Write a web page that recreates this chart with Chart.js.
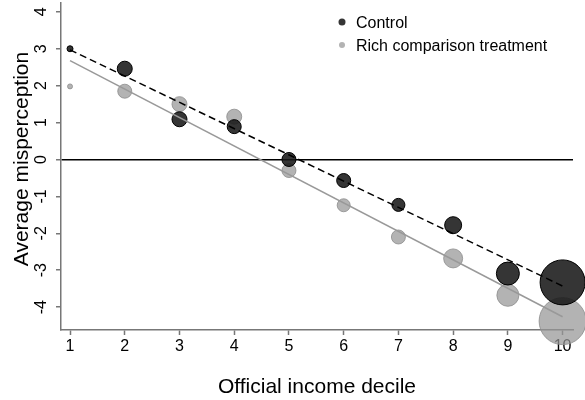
<!DOCTYPE html>
<html>
<head>
<meta charset="utf-8">
<script src="https://cdn.jsdelivr.net/npm/chart.js@4.4.1/dist/chart.umd.min.js"></script>
<style>
html, body { margin: 0; padding: 0; background: #fff; }
</style>
</head>
<body>
<canvas id="chart" width="585" height="400"></canvas>
<script>
// data
const deciles = [1, 2, 3, 4, 5, 6, 7, 8, 9, 10];
const controlValues = [3.0, 2.46, 1.09, 0.89, 0.0, -0.57, -1.23, -1.78, -3.09, -3.33];
const controlSizes = [3, 7.5, 7.5, 7, 7, 7, 6.5, 8.5, 11.5, 22.5];
const treatmentValues = [1.98, 1.85, 1.5, 1.16, -0.3, -1.24, -2.1, -2.68, -3.68, -4.38];
const treatmentSizes = [2.5, 7, 7.5, 7.5, 7, 6.5, 7, 9.5, 11, 23.5];
// fitted lines, value at decile 1 and decile 10
const fitEnds = [1, 10];
const controlFit = [2.97, -3.43];
const treatmentFit = [2.68, -4.26];
const yTicks = [-4, -3, -2, -1, 0, 1, 2, 3, 4];
const seriesNames = ['Control', 'Rich comparison treatment'];

const FONT = '"Liberation Sans", Arial, sans-serif';
const darkFill = 'rgba(25,25,25,0.88)';
const greyFill = 'rgba(150,150,150,0.72)';

Chart.defaults.font.family = FONT;

const toPoints = (xs, ys) => xs.map((x, i) => ({ x: x, y: ys[i] }));

// y tick labels, axis titles and the legend
const axisText = {
    id: 'axisText',
    afterDraw(chart) {
        const ctx = chart.ctx;
        const y = chart.scales.y;
        const area = chart.chartArea;
        ctx.save();
        ctx.fillStyle = '#000';
        ctx.textBaseline = 'alphabetic';

        ctx.font = '16px ' + FONT;
        ctx.textAlign = 'center';
        yTicks.forEach(v => {
            ctx.save();
            ctx.translate(46, y.getPixelForValue(v));
            ctx.rotate(-Math.PI / 2);
            ctx.fillText(String(v), 0, 0);
            ctx.restore();
        });

        ctx.font = '21px ' + FONT;
        ctx.fillText('Official income decile', (area.left + area.right) / 2, 393);
        ctx.save();
        ctx.translate(28, 159);
        ctx.rotate(-Math.PI / 2);
        ctx.fillText('Average misperception', 0, 0);
        ctx.restore();

        // legend
        ctx.font = '16px ' + FONT;
        ctx.textAlign = 'left';
        const rows = [[darkFill, '#000', 3.5, 22, 28], [greyFill, '#999', 3, 45, 51]];
        rows.forEach((r, i) => {
            ctx.beginPath();
            ctx.arc(342, r[3], r[2], 0, Math.PI * 2);
            ctx.fillStyle = r[0];
            ctx.fill();
            ctx.fillStyle = '#000';
            ctx.fillText(seriesNames[i], 356, r[4]);
        });
        ctx.restore();
    }
};

new Chart(document.getElementById('chart'), {
    type: 'scatter',
    data: {
        datasets: [
            {
                type: 'line',
                label: 'Control fit',
                data: toPoints(fitEnds, controlFit),
                borderColor: '#000',
                borderWidth: 1.5,
                borderDash: [7, 4],
                pointRadius: 0,
                fill: false
            },
            {
                type: 'line',
                label: 'Treatment fit',
                data: toPoints(fitEnds, treatmentFit),
                borderColor: '#999',
                borderWidth: 1.5,
                pointRadius: 0,
                fill: false
            },
            {
                label: seriesNames[0],
                data: toPoints(deciles, controlValues),
                pointRadius: controlSizes,
                backgroundColor: darkFill,
                borderColor: '#000',
                borderWidth: 1,
                clip: false
            },
            {
                label: seriesNames[1],
                data: toPoints(deciles, treatmentValues),
                pointRadius: treatmentSizes,
                backgroundColor: greyFill,
                borderColor: 'rgba(140,140,140,0.8)',
                borderWidth: 1,
                clip: false
            }
        ]
    },
    options: {
        responsive: false,
        animation: false,
        events: [],
        layout: { autoPadding: false, padding: { left: 0, right: 12, top: 3, bottom: 0 } },
        plugins: {
            legend: { display: false },
            tooltip: { enabled: false }
        },
        scales: {
            x: {
                type: 'linear',
                min: 0.835,
                max: 10.19,
                afterFit: s => { s.height = 70; },
                ticks: {
                    stepSize: 1,
                    includeBounds: false,
                    autoSkip: false,
                    color: '#000',
                    font: { size: 16 },
                    padding: 2
                },
                grid: {
                    drawOnChartArea: false,
                    tickLength: 5,
                    tickColor: '#777',
                    tickWidth: 1.5
                },
                border: { color: '#777', width: 1.5 }
            },
            y: {
                min: -4.62,
                max: 4.24,
                afterFit: s => { s.width = 61; },
                ticks: {
                    stepSize: 1,
                    includeBounds: false,
                    autoSkip: false,
                    display: false
                },
                grid: {
                    color: c => (c.tick && c.tick.value === 0) ? '#000' : 'rgba(0,0,0,0)',
                    lineWidth: 1.5,
                    tickLength: 5,
                    tickColor: '#777',
                    tickWidth: 1.5
                },
                border: { color: '#777', width: 1.5 }
            }
        }
    },
    plugins: [axisText]
});
</script>
</body>
</html>
